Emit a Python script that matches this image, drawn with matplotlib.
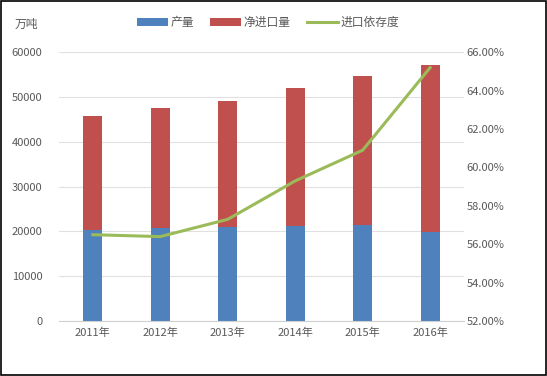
import matplotlib
matplotlib.use("Agg")
import matplotlib.pyplot as plt
import numpy as np

plt.rcParams["font.family"] = ["Noto Sans CJK SC", "DejaVu Sans"]
plt.rcParams["axes.unicode_minus"] = False

years = ["2011年", "2012年", "2013年", "2014年", "2015年", "2016年"]
production = [20288, 20748, 20992, 21143, 21456, 19969]
net_import = [25400, 26750, 28100, 30850, 33250, 37150]
dependency = [56.5, 56.4, 57.3, 59.3, 60.9, 65.2]

blue = "#4F81BD"
red = "#C0504D"
green = "#9BBB59"
gray = "#595959"

fig = plt.figure(figsize=(5.47, 3.76), dpi=100)
fig.patches.append(plt.Rectangle((0.002, 0.003), 0.996, 0.994, transform=fig.transFigure,
                                 fill=False, edgecolor="black", linewidth=1.2))
ax = fig.add_axes([0.108, 0.146, 0.740, 0.715])
x = np.arange(len(years))
w = 0.28
ax.bar(x, production, w, color=blue, label="产量", zorder=2)
ax.bar(x, net_import, w, bottom=production, color=red, label="净进口量", zorder=2)
ax.set_xlim(-0.5, 5.5)
ax.set_ylim(0, 60000)
ax.set_yticks(range(0, 60001, 10000))
ax.set_xticks(x)
ax.set_xticklabels(years)
ax.grid(axis="y", color="#E0E0E0", linewidth=0.8, zorder=0)
for s in ["top", "left", "right"]:
    ax.spines[s].set_visible(False)
ax.spines["bottom"].set_color("#D0D0D0")
ax.tick_params(length=0, labelsize=8, colors=gray)
ax.tick_params(axis="y", pad=12)
ax.tick_params(axis="x", pad=5)

ax2 = ax.twinx()
ax2.plot(x, dependency, color=green, linewidth=2.2, label="进口依存度", zorder=3)
ax2.set_ylim(52, 66)
ax2.set_yticks(np.arange(52, 66.1, 2))
ax2.set_yticklabels([f"{v:.2f}%" for v in np.arange(52, 66.1, 2)])
for s in ax2.spines.values():
    s.set_visible(False)
ax2.tick_params(length=0, labelsize=8, colors=gray, pad=2)

fig.text(0.027, 0.935, "万吨", fontsize=8.5, color=gray, va="center")
h1, l1 = ax.get_legend_handles_labels()
h2, l2 = ax2.get_legend_handles_labels()
fig.legend(h1 + h2, l1 + l2, loc="center", bbox_to_anchor=(0.49, 0.94), ncol=3,
           frameon=False, fontsize=8.5, handlelength=2.6, handleheight=0.6,
           columnspacing=1.4, handletextpad=0.2, labelcolor=gray)

fig.savefig("out.png", dpi=100)
